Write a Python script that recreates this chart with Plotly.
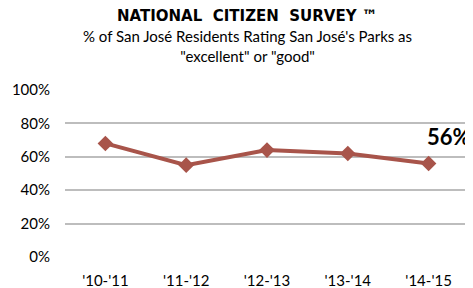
import plotly.graph_objects as go

categories = ["'10-'11", "'11-'12", "'12-'13", "'13-'14", "'14-'15"]
values = [0.68, 0.55, 0.64, 0.62, 0.56]
y_ticks = [0, 0.2, 0.4, 0.6, 0.8, 1.0]
y_tick_labels = ["0%", "20%", "40%", "60%", "80%", "100%"]
last_label = "56%"

FONT = "Lato, 'Open Sans', sans-serif"
TITLE_FONT = "'DejaVu Sans', sans-serif"
COLOR = "#A8544A"

fig = go.Figure()
fig.add_trace(go.Scatter(
    x=categories, y=values, mode="lines+markers",
    line=dict(color=COLOR, width=4),
    marker=dict(symbol="diamond", size=12, color=COLOR),
    hoverinfo="skip",
))

fig.add_annotation(
    x=categories[-1], y=values[-1], xref="x", yref="y",
    text="<b>" + last_label + "</b>", showarrow=False,
    xshift=20, yshift=27, font=dict(family=FONT, size=22, color="black"),
)

fig.add_annotation(
    x=0.5, y=1, xref="paper", yref="paper", yanchor="bottom",
    xanchor="center", yshift=63, xshift=-20,
    text="<b>NATIONAL&nbsp;&nbsp;CITIZEN&nbsp;&nbsp;SURVEY&nbsp;<span style='font-size:16px'>™</span></b>",
    showarrow=False, font=dict(family=TITLE_FONT, size=15, color="black"),
)
fig.add_annotation(
    x=0.5, y=1, xref="paper", yref="paper", yanchor="bottom",
    xanchor="center", yshift=23, xshift=-20,
    text="% of San José Residents Rating San José's Parks as<br>\"excellent\" or \"good\"",
    showarrow=False, font=dict(family=FONT, size=15, color="black"),
)

fig.update_layout(
    width=465, height=280,
    margin=dict(l=57, r=4, t=82, b=31, autoexpand=False),
    paper_bgcolor="white", plot_bgcolor="white",
    showlegend=False,
    font=dict(family=FONT, size=14, color="black"),
    xaxis=dict(showgrid=False, showline=False, ticks="", tickfont=dict(size=15),
               range=[-0.5, 4.5], ticklabelstandoff=13, automargin=False),
    yaxis=dict(range=[0, 1], tickvals=y_ticks, ticktext=y_tick_labels,
               showgrid=True, gridcolor="#BDBDBD", gridwidth=1.5,
               zeroline=False, showline=False, ticks="", tickfont=dict(size=15),
               ticklabelstandoff=14, automargin=False),
)

fig.write_html("out.html")
